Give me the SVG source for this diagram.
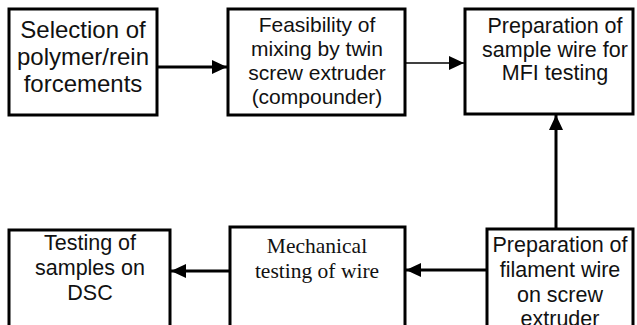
<svg xmlns="http://www.w3.org/2000/svg" width="637" height="325" viewBox="0 0 637 325">
<defs>
<style>
.box{fill:#fff;stroke:#000;stroke-width:3}
.t{font-family:"Liberation Sans",Arial,sans-serif;fill:#111;text-anchor:middle}
.s{font-family:"Liberation Serif","Times New Roman",serif;fill:#111;text-anchor:middle}
.ln{fill:none;stroke:#000;stroke-width:3}
</style>
<marker id="ah" markerUnits="userSpaceOnUse" markerWidth="16" markerHeight="14" refX="15" refY="7" orient="auto">
<path d="M0,0 L15,7 L0,14 Z" fill="#000"/>
</marker>
</defs>
<g id="connectors">
<line class="ln" x1="157" y1="67" x2="227" y2="67" marker-end="url(#ah)"/>
<line class="ln" x1="405" y1="63" x2="464" y2="63" style="stroke-width:1.6" marker-end="url(#ah)"/>
<line class="ln" x1="556" y1="229" x2="556" y2="115" marker-end="url(#ah)"/>
<line class="ln" x1="487" y1="270" x2="406" y2="270" marker-end="url(#ah)"/>
<line class="ln" x1="230" y1="271" x2="171" y2="271" marker-end="url(#ah)"/>
</g>
<g id="n1">
<rect class="box" x="9" y="9" width="148" height="106"/>
<text class="t" font-size="24" x="83" y="38">Selection of</text>
<text class="t" font-size="24" x="83" y="65">polymer/rein</text>
<text class="t" font-size="24" x="83" y="92">forcements</text>
</g>
<g id="n2">
<rect class="box" x="228" y="9" width="177" height="106"/>
<text class="t" font-size="21" x="317" y="32">Feasibility of</text>
<text class="t" font-size="21" x="317" y="56">mixing by twin</text>
<text class="t" font-size="21" x="317" y="80">screw extruder</text>
<text class="t" font-size="21" x="317" y="104">(compounder)</text>
</g>
<g id="n3">
<rect class="box" x="465" y="9" width="168" height="105"/>
<text class="t" font-size="21.5" x="555" y="33">Preparation of</text>
<text class="t" font-size="21.5" x="555" y="57">sample wire for</text>
<text class="t" font-size="21.5" x="555" y="80">MFI testing</text>
</g>
<g id="n4">
<rect class="box" x="9" y="230" width="161" height="110"/>
<text class="t" font-size="21.5" x="90" y="250">Testing of</text>
<text class="t" font-size="21.5" x="90" y="275">samples on</text>
<text class="t" font-size="21.5" x="90" y="300">DSC</text>
</g>
<g id="n5">
<rect class="box" x="230" y="227" width="175" height="113"/>
<text class="s" font-size="21.5" x="317" y="253">Mechanical</text>
<text class="s" font-size="21.5" x="317" y="278">testing of wire</text>
</g>
<g id="n6">
<rect class="box" x="487" y="229" width="146" height="111"/>
<text class="t" font-size="21.5" x="560" y="252">Preparation of</text>
<text class="t" font-size="21.5" x="560" y="277">filament wire</text>
<text class="t" font-size="21.5" x="560" y="302">on screw</text>
<text class="t" font-size="21.5" x="560" y="326">extruder</text>
</g>
</svg>
